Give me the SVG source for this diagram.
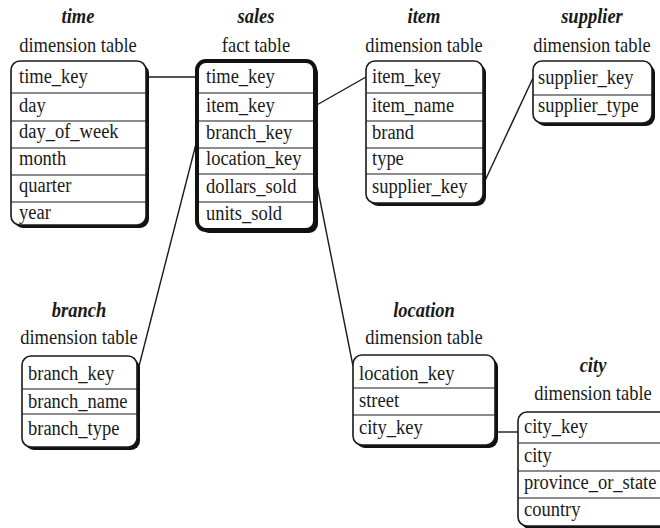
<svg xmlns="http://www.w3.org/2000/svg" width="660" height="528" viewBox="0 0 660 528">
<style>
text{font-family:'Liberation Serif','DejaVu Serif','Times New Roman',serif;fill:#1a1a1a;font-size:18.5px}
.t{font-style:italic;font-weight:bold;text-anchor:middle}
.s{text-anchor:middle}
.sh{fill:#111}
.bx{fill:#fff;stroke:#1a1a1a;stroke-width:1.6}
.bf{fill:#fff;stroke:#111;stroke-width:4}
.dv{stroke:#1a1a1a;stroke-width:1.2}
.c{stroke:#1a1a1a;stroke-width:1.4;fill:none}
</style>
<rect width="660" height="528" fill="#fff"/>
<g id="connectors">
<line class="c" x1="146" y1="77" x2="197" y2="77"/>
<line class="c" x1="315" y1="106" x2="366" y2="77"/>
<line class="c" x1="483" y1="185" x2="533" y2="78"/>
<line class="c" x1="197" y1="140" x2="138" y2="370"/>
<line class="c" x1="315" y1="175" x2="353" y2="366"/>
<line class="c" x1="495" y1="432" x2="518" y2="432"/>
</g>
<g id="time">
<text class="t" transform="translate(78,23) scale(1,1.1)">time</text>
<text class="s" transform="translate(78,52) scale(1,1.1)">dimension table</text>
<rect class="sh" x="14" y="64" width="135" height="164" rx="9"/>
<rect class="bx" x="11" y="61" width="135" height="164" rx="9"/>
<line class="dv" x1="11" y1="93" x2="146" y2="93"/>
<line class="dv" x1="11" y1="121" x2="146" y2="121"/>
<line class="dv" x1="11" y1="148" x2="146" y2="148"/>
<line class="dv" x1="11" y1="175" x2="146" y2="175"/>
<line class="dv" x1="11" y1="202" x2="146" y2="202"/>
<text transform="translate(19,83) scale(1,1.18)">time_key</text>
<text transform="translate(19,112) scale(1,1.18)">day</text>
<text transform="translate(19,138) scale(1,1.18)">day_of_week</text>
<text transform="translate(19,165) scale(1,1.18)">month</text>
<text transform="translate(19,192) scale(1,1.18)">quarter</text>
<text transform="translate(19,219) scale(1,1.18)">year</text>
</g>
<g id="sales">
<text class="t" transform="translate(256,23) scale(1,1.1)">sales</text>
<text class="s" transform="translate(256,52) scale(1,1.1)">fact table</text>
<rect class="sh" x="200" y="64" width="118" height="169" rx="9"/>
<rect class="bf" x="197" y="61" width="118" height="169" rx="9"/>
<line class="dv" x1="199" y1="93" x2="313" y2="93"/>
<line class="dv" x1="199" y1="121" x2="313" y2="121"/>
<line class="dv" x1="199" y1="148" x2="313" y2="148"/>
<line class="dv" x1="199" y1="174" x2="313" y2="174" stroke-width="2.4"/>
<line class="dv" x1="199" y1="202" x2="313" y2="202"/>
<text transform="translate(206,83) scale(1,1.18)">time_key</text>
<text transform="translate(206,112) scale(1,1.18)">item_key</text>
<text transform="translate(206,139) scale(1,1.18)">branch_key</text>
<text transform="translate(206,165) scale(1,1.18)">location_key</text>
<text transform="translate(206,193) scale(1,1.18)">dollars_sold</text>
<text transform="translate(206,220) scale(1,1.18)">units_sold</text>
</g>
<g id="item">
<text class="t" transform="translate(424,23) scale(1,1.1)">item</text>
<text class="s" transform="translate(424,52) scale(1,1.1)">dimension table</text>
<rect class="sh" x="369" y="64" width="117" height="142" rx="9"/>
<rect class="bx" x="366" y="61" width="117" height="142" rx="9"/>
<line class="dv" x1="366" y1="93" x2="483" y2="93"/>
<line class="dv" x1="366" y1="121" x2="483" y2="121"/>
<line class="dv" x1="366" y1="148" x2="483" y2="148"/>
<line class="dv" x1="366" y1="174" x2="483" y2="174"/>
<text transform="translate(372,83) scale(1,1.18)">item_key</text>
<text transform="translate(372,112) scale(1,1.18)">item_name</text>
<text transform="translate(372,139) scale(1,1.18)">brand</text>
<text transform="translate(372,165) scale(1,1.18)">type</text>
<text transform="translate(372,193) scale(1,1.18)">supplier_key</text>
</g>
<g id="supplier">
<text class="t" transform="translate(592,23) scale(1,1.1)">supplier</text>
<text class="s" transform="translate(592,52) scale(1,1.1)">dimension table</text>
<rect class="sh" x="536" y="64" width="119" height="62" rx="9"/>
<rect class="bx" x="533" y="61" width="119" height="62" rx="9"/>
<line class="dv" x1="533" y1="95" x2="652" y2="95"/>
<text transform="translate(538,84) scale(1,1.18)">supplier_key</text>
<text transform="translate(538,112) scale(1,1.18)">supplier_type</text>
</g>
<g id="branch">
<text class="t" transform="translate(79,317) scale(1,1.1)">branch</text>
<text class="s" transform="translate(79,344) scale(1,1.1)">dimension table</text>
<rect class="sh" x="25" y="359" width="115" height="91" rx="9"/>
<rect class="bx" x="22" y="356" width="115" height="91" rx="9"/>
<line class="dv" x1="22" y1="389" x2="137" y2="389"/>
<line class="dv" x1="22" y1="414" x2="137" y2="414"/>
<text transform="translate(28,380) scale(1,1.18)">branch_key</text>
<text transform="translate(28,408) scale(1,1.18)">branch_name</text>
<text transform="translate(28,435) scale(1,1.18)">branch_type</text>
</g>
<g id="location">
<text class="t" transform="translate(424,317) scale(1,1.1)">location</text>
<text class="s" transform="translate(424,344) scale(1,1.1)">dimension table</text>
<rect class="sh" x="356" y="358" width="142" height="90" rx="9"/>
<rect class="bx" x="353" y="355" width="142" height="90" rx="9"/>
<line class="dv" x1="353" y1="388" x2="495" y2="388"/>
<line class="dv" x1="353" y1="415" x2="495" y2="415"/>
<text transform="translate(359,380) scale(1,1.18)">location_key</text>
<text transform="translate(359,407) scale(1,1.18)">street</text>
<text transform="translate(359,434) scale(1,1.18)">city_key</text>
</g>
<g id="city">
<text class="t" transform="translate(593,372) scale(1,1.1)">city</text>
<text class="s" transform="translate(593,400) scale(1,1.1)">dimension table</text>
<rect class="sh" x="521" y="415" width="150" height="114" rx="9"/>
<rect class="bx" x="518" y="412" width="150" height="114" rx="9"/>
<line class="dv" x1="518" y1="443" x2="668" y2="443"/>
<line class="dv" x1="518" y1="471" x2="668" y2="471"/>
<line class="dv" x1="518" y1="498" x2="668" y2="498"/>
<text transform="translate(524,433) scale(1,1.18)">city_key</text>
<text transform="translate(524,462) scale(1,1.18)">city</text>
<text transform="translate(524,489) scale(1,1.18)">province_or_state</text>
<text transform="translate(524,516) scale(1,1.18)">country</text>
</g>
</svg>
